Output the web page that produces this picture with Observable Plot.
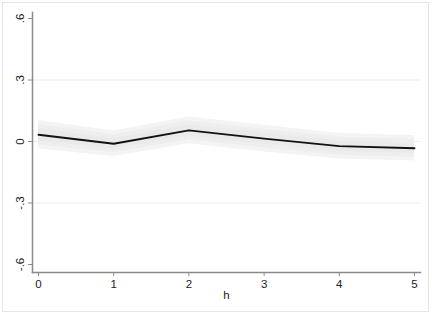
<!DOCTYPE html>
<html>
<head>
<meta charset="utf-8">
<script src="https://cdn.jsdelivr.net/npm/d3@7"></script>
<script src="https://cdn.jsdelivr.net/npm/@observablehq/plot@0.6"></script>
<style>
  html, body { margin: 0; padding: 0; background: #fff; }
  #wrap { position: relative; width: 433px; height: 315px; }
  #border { position: absolute; left: 2px; top: 2px; width: 425px; height: 308px; border: 1px solid #e4e4e4; pointer-events: none; }
</style>
</head>
<body>
<div id="wrap"><div id="chart"></div><div id="border"></div></div>
<script>
const horizons = [0, 1, 2, 3, 4, 5];
const estimate = [0.033, -0.011, 0.054, 0.014, -0.023, -0.033];
const outerHalf = [0.07, 0.062, 0.065, 0.065, 0.062, 0.062];
const midHalf   = [0.05, 0.044, 0.046, 0.046, 0.044, 0.044];
const innerHalf = [0.03, 0.026, 0.028, 0.028, 0.026, 0.026];
const yTicks = [0.6, 0.3, 0, -0.3, -0.6];
const yTickLabels = [".6", ".3", "0", "-.3", "-.6"];
const gridTicks = [0.3, 0, -0.3];
const xLabel = "h";

const rows = horizons.map((h, i) => ({
  h, est: estimate[i],
  o1: estimate[i] - outerHalf[i], o2: estimate[i] + outerHalf[i],
  m1: estimate[i] - midHalf[i], m2: estimate[i] + midHalf[i],
  i1: estimate[i] - innerHalf[i], i2: estimate[i] + innerHalf[i]
}));

const font = "'Liberation Sans', Arial, sans-serif";

const chart = Plot.plot({
  width: 433,
  height: 315,
  marginLeft: 32,
  marginRight: 13,
  marginTop: 12,
  marginBottom: 43,
  insetLeft: 6,
  insetRight: 6,
  insetTop: 6,
  insetBottom: 8,
  style: { fontFamily: font, fontSize: "11px", color: "#222", background: "#fff" },
  x: { domain: [0, 5] },
  y: { domain: [-0.6, 0.6] },
  marks: [
    Plot.ruleY(gridTicks, { stroke: "#ebebeb", strokeWidth: 1 }),
    Plot.areaY(rows, { x: "h", y1: "o1", y2: "o2", fill: "#f4f4f4" }),
    Plot.areaY(rows, { x: "h", y1: "m1", y2: "m2", fill: "#eeeeee" }),
    Plot.areaY(rows, { x: "h", y1: "i1", y2: "i2", fill: "#eaeaea" }),
    Plot.line(rows, { x: "h", y: "est", stroke: "#111", strokeWidth: 1.8 }),
    Plot.frame({ anchor: "left", stroke: "#8a8a8a", strokeWidth: 1.5 }),
    Plot.frame({ anchor: "bottom", stroke: "#8a8a8a", strokeWidth: 1.5 }),
    Plot.axisY(yTicks, { tickSize: 4, label: null, tickFormat: () => "", stroke: "#8a8a8a" }),
    Plot.text(yTicks, { y: d => d, frameAnchor: "left", dx: -12, rotate: -90, text: (d, i) => yTickLabels[i], textAnchor: "middle", lineAnchor: "middle", fill: "#222", fontSize: 11.5 }),
    Plot.axisX(horizons, { tickSize: 4, tickPadding: 3, label: null, tickFormat: d => String(d), stroke: "#8a8a8a", fill: "#222", fontSize: 11.5 }),
    Plot.text([xLabel], { frameAnchor: "bottom", dy: 26, text: d => d, fill: "#222", fontSize: 11.5 })
  ]
});
document.getElementById("chart").appendChild(chart);
</script>
</body>
</html>
